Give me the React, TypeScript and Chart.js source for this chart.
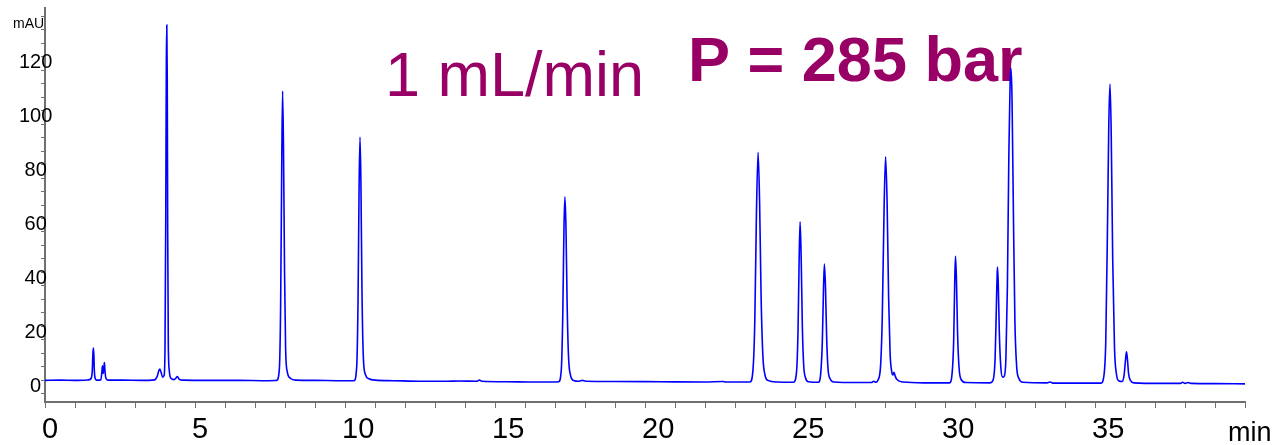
import React, { useEffect, useRef } from "react";
import { Chart, registerables } from "chart.js";

Chart.register(...registerables);

// Retention time (min)
const retentionTimes: number[] = [
  0.0, 0.5, 1.0, 1.45, 1.54, 1.575, 1.6, 1.615, 1.63, 1.645, 1.67, 1.72,
  1.86, 1.895, 1.915, 1.94, 1.97, 1.98, 2.0, 2.03, 2.1, 2.6, 3.2,
  3.65, 3.74, 3.8, 3.83, 3.87, 3.92, 3.97, 4.0, 4.025, 4.045, 4.06, 4.075, 4.09, 4.11, 4.14, 4.2, 4.3,
  4.36, 4.41, 4.47, 4.6, 5.5, 6.5, 7.3,
  7.72, 7.81, 7.855, 7.89, 7.92, 7.95, 7.985, 8.02, 8.08, 8.18, 8.35, 9.0, 9.8,
  10.3, 10.39, 10.435, 10.47, 10.5, 10.53, 10.565, 10.61, 10.68, 10.8, 11.0,
  11.6, 12.5, 13.4, 13.8, 14.4, 14.48, 14.56, 15.4, 16.2, 16.9,
  17.12, 17.21, 17.26, 17.3, 17.33, 17.365, 17.405, 17.45, 17.52, 17.62, 17.8, 17.92, 18.02,
  19.0, 20.5, 22.0, 22.6, 22.7,
  23.5, 23.6, 23.66, 23.715, 23.77, 23.82, 23.87, 23.93, 24.0, 24.1, 24.4,
  24.95, 25.05, 25.1, 25.14, 25.17, 25.205, 25.245, 25.29, 25.35, 25.45,
  25.78, 25.86, 25.91, 25.95, 25.98, 26.015, 26.055, 26.1, 26.17, 26.3, 27.0,
  27.55, 27.62, 27.7, 27.76, 27.85, 27.91, 27.97, 28.02, 28.07, 28.12, 28.17, 28.22, 28.26, 28.3, 28.34, 28.4, 28.6, 29.3,
  30.15, 30.24, 30.29, 30.325, 30.35, 30.38, 30.42, 30.47, 30.53, 30.7, 31.5,
  31.6, 31.67, 31.71, 31.735, 31.75, 31.775, 31.81, 31.86, 31.92, 31.97,
  32.03, 32.08, 32.13, 32.17, 32.2, 32.235, 32.28, 32.33, 32.39, 32.46, 32.6,
  33.4, 33.5, 33.6, 34.5,
  35.2, 35.3, 35.36, 35.42, 35.46, 35.5, 35.54, 35.59, 35.65, 35.72, 35.8,
  35.9, 35.97, 36.02, 36.05, 36.08, 36.12, 36.18, 36.3,
  37.2, 37.85, 37.92, 38.0, 38.1, 38.2, 39.0, 40.0,
];

// Absorbance (mAU)
const absorbance: number[] = [
  0.0, 0.1, 0.0, 0.2, 0.8, 3.5, 10.5, 12.0, 9.0, 3.5, 0.8, 0.1,
  0.2, 3.0, 5.4, 2.6, 5.5, 6.6, 3.5, 0.8, 0.1, 0.1, 0.0,
  0.2, 1.5, 3.8, 4.2, 3.0, 1.2, 1.8, 12, 60, 118, 131.7, 112, 55, 14, 4, 0.8, 0.3,
  0.8, 1.4, 0.5, 0.1, 0.0, 0.0, -0.1,
  0.0, 4, 28, 78, 107.2, 86, 40, 12, 3, 0.8, 0.1, 0.0, -0.1,
  -0.1, 5, 30, 72, 90.2, 74, 34, 9, 2.2, 0.6, 0.1,
  -0.1, -0.3, -0.3, -0.2, -0.3, 0.1, -0.3, -0.5, -0.6, -0.6,
  -0.5, 4, 25, 57, 68.0, 57, 28, 9, 1.8, 0, -0.3, 0.0, -0.3,
  -0.4, -0.5, -0.6, -0.4, -0.6,
  -0.6, 4, 22, 62, 84.5, 66, 31, 9, 2, 0, -0.6,
  -0.7, 3, 18, 46, 58.8, 46, 20, 5.5, 1, -0.5,
  -0.7, 3, 14, 34, 43.1, 35, 16, 4.5, 0.6, -0.6, -0.8,
  -0.8, -0.3, -0.7, 0, 5, 24, 64, 82.9, 66, 31, 10, 3.5, 2, 3, 1.6, 0.3, -0.6, -0.9,
  -0.9, 3, 15, 37, 46.0, 38, 17, 4.5, 0.5, -0.8, -0.9,
  0, 8, 26, 38, 42.0, 36, 18, 5, 1.2, 1.5,
  8, 35, 85, 110, 115.7, 104, 62, 22, 5, 0.8, -0.7,
  -0.9, -0.6, -1.0, -1.0,
  -1.0, 2, 15, 60, 95, 109.8, 92, 45, 12, 2, -0.2,
  -0.4, 2, 8, 10.6, 8, 2.5, 0, -0.9,
  -1.1, -1.1, -0.7, -1.1, -0.8, -1.1, -1.2, -1.3,
];

const xTickLabels: number[] = [0, 5, 10, 15, 20, 25, 30, 35];
const yTickLabels: number[] = [0, 20, 40, 60, 80, 100, 120];

const FONT = '"Liberation Sans", Arial, Helvetica, sans-serif';
const AXIS_GRAY = "#707070";
const ANNOT_COLOR = "#990066";

const annotationPlugin = {
  id: "annotations",
  beforeDatasetsDraw(chart: any) {
    const { ctx } = chart;
    ctx.save();
    ctx.textBaseline = "alphabetic";
    ctx.textAlign = "left";
    ctx.fillStyle = ANNOT_COLOR;
    ctx.font = `63px ${FONT}`;
    ctx.fillText("1 mL/min", 385, 96);
    ctx.font = `bold 63px ${FONT}`;
    ctx.fillText("P = 285 bar", 688, 81);
    ctx.fillStyle = "#000";
    ctx.font = `14px ${FONT}`;
    ctx.fillText("mAU", 13, 28);
    ctx.font = `27px ${FONT}`;
    ctx.fillText("min", 1228, 441);
    ctx.restore();
  },
};

export default function App() {
  const canvasRef = useRef<HTMLCanvasElement>(null);

  useEffect(() => {
    const points = retentionTimes.map((t, i) => ({ x: t, y: absorbance[i] }));
    const chart = new Chart(canvasRef.current as HTMLCanvasElement, {
      type: "line",
      data: {
        datasets: [
          {
            data: points,
            borderColor: "#0000ff",
            borderWidth: 1.6,
            pointRadius: 0,
            cubicInterpolationMode: "monotone",
            fill: false,
          },
        ],
      },
      options: {
        animation: false,
        responsive: true,
        maintainAspectRatio: false,
        layout: { padding: { top: 8, right: 31, left: 0, bottom: 0 } },
        plugins: { legend: { display: false }, tooltip: { enabled: false }, title: { display: false } },
        scales: {
          x: {
            type: "linear",
            min: 0,
            max: 40,
            ticks: {
              stepSize: 1,
              autoSkip: false,
              maxRotation: 0,
              includeBounds: false,
              align: "start",
              labelOffset: -3,
              padding: 5,
              color: "#000",
              font: { family: FONT, size: 29 },
              callback: (v: any) => (xTickLabels.includes(Number(v)) ? String(v) : ""),
            },
            grid: { drawOnChartArea: false, drawTicks: true, tickLength: 6, color: AXIS_GRAY, lineWidth: 1 },
            border: { display: true, color: AXIS_GRAY, width: 2 },
            afterFit: (s: any) => {
              s.height = 43;
            },
          },
          y: {
            type: "linear",
            min: -8,
            max: 138,
            ticks: {
              stepSize: 5,
              autoSkip: false,
              includeBounds: false,
              mirror: true,
              crossAlign: "center",
              padding: -26,
              labelOffset: 6,
              color: "#000",
              font: { family: FONT, size: 20 },
              callback: (v: any) => (yTickLabels.includes(Number(v)) ? String(v) : ""),
            },
            grid: { drawOnChartArea: false, drawTicks: true, tickLength: 4, color: AXIS_GRAY, lineWidth: 1 },
            border: { display: true, color: AXIS_GRAY, width: 2 },
            afterFit: (s: any) => {
              s.width = 45;
            },
          },
        },
      } as any,
      plugins: [annotationPlugin],
    });
    return () => chart.destroy();
  }, []);

  return (
    <div style={{ position: "fixed", left: 0, top: 0, width: 1276, height: 445, background: "#fff" }}>
      <canvas ref={canvasRef} />
    </div>
  );
}
